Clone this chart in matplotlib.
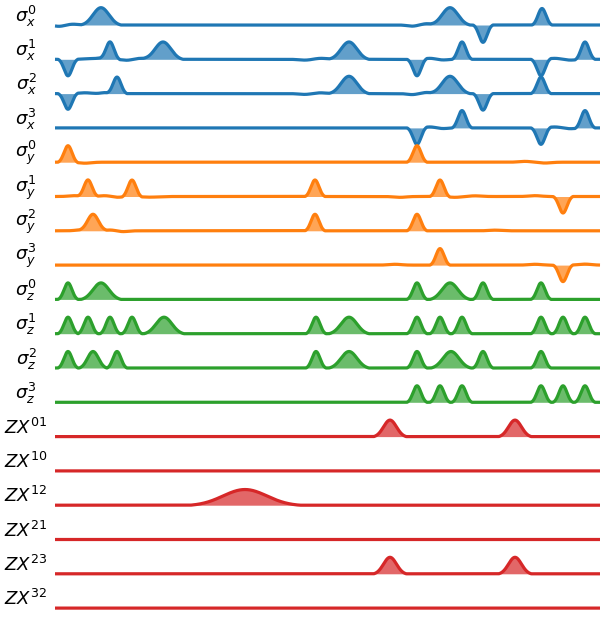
import numpy as np
import matplotlib
matplotlib.use("Agg")
import matplotlib.pyplot as plt

# ---- data -------------------------------------------------------------
channels = [r"$\sigma_x^0$", r"$\sigma_x^1$", r"$\sigma_x^2$", r"$\sigma_x^3$",
            r"$\sigma_y^0$", r"$\sigma_y^1$", r"$\sigma_y^2$", r"$\sigma_y^3$",
            r"$\sigma_z^0$", r"$\sigma_z^1$", r"$\sigma_z^2$", r"$\sigma_z^3$",
            r"$ZX^{01}$", r"$ZX^{10}$", r"$ZX^{12}$", r"$ZX^{21}$",
            r"$ZX^{23}$", r"$ZX^{32}$"]
channel_colors = ["#1f77b4"] * 4 + ["#ff7f0e"] * 4 + ["#2ca02c"] * 4 + ["#d62728"] * 6

duration = 545.0

# pulses per channel: (centre time, gaussian sigma, amplitude)
pulses = [
    [(46, 8, 1.05), (395, 8, 1.05), (428, 4, -1.05), (487, 4, 1.0)],                     # sx0
    [(13, 4, -1.0), (55, 4, 1.05), (108, 8, 1.05), (294, 8, 1.05), (362, 4, -1.0),
     (407, 4, 1.05), (486, 4, -1.0), (530, 4, 1.05)],                                   # sx1
    [(13, 4, -0.95), (62, 4, 1.0), (294, 8, 1.05), (395, 8, 1.05), (428, 4, -1.0),
     (486, 4, 1.0)],                                                                   # sx2
    [(362, 4, -1.0), (407, 4, 1.05), (486, 4, -1.0), (530, 4, 1.05)],                     # sx3
    [(13, 4, 1.0), (362, 4, 1.0)],                                                      # sy0
    [(33, 4, 1.0), (77, 4, 1.0), (260, 4, 1.0), (385, 4, 1.0), (508, 4, -1.0)],           # sy1
    [(38, 5.5, 1.0), (260, 4, 1.0), (362, 4, 1.0)],                                     # sy2
    [(385, 4, 1.0), (508, 4, -1.0)],                                                    # sy3
    [(13, 4, 1.0), (46, 8, 1.0), (362, 4, 1.0), (395, 8, 1.0), (428, 4, 1.0),
     (486, 4, 1.0)],                                                                   # sz0
    [(13, 4, 1.0), (33, 4, 1.0), (55, 4, 1.0), (77, 4, 1.0), (109, 8, 1.0),
     (261, 4, 1.0), (294, 8, 1.0), (362, 4, 1.0), (385, 4, 1.0), (407, 4, 1.0),
     (486, 4, 1.0), (508, 4, 1.0), (530, 4, 1.0)],                                     # sz1
    [(13, 4, 1.0), (38, 5.5, 1.0), (62, 4, 1.0), (261, 4, 1.0), (294, 8, 1.0),
     (362, 4, 1.0), (396, 8, 1.0), (428, 4, 1.0), (486, 4, 1.0)],                       # sz2
    [(362, 4, 1.0), (385, 4, 1.0), (407, 4, 1.0), (486, 4, 1.0), (508, 4, 1.0),
     (530, 4, 1.0)],                                                                   # sz3
    [(335, 6.5, 1.0), (460, 6.5, 1.0)],                                                 # ZX01
    [],                                                                                # ZX10
    [(190, 22, 0.95)],                                                                 # ZX12
    [],                                                                                # ZX21
    [(335, 6.5, 1.0), (460, 6.5, 1.0)],                                                 # ZX23
    [],                                                                                # ZX32
]

# small residual ripples on the single-qubit drive channels: (centre, sigma, amplitude)
ripples = [
    [(4, 5, -0.08), (18, 5, 0.05), (357, 5, -0.07), (372, 5, 0.08)],                   # sx0
    [(35, 6, 0.04), (46, 4, 0.07), (72, 5, -0.06), (86, 6, 0.06), (250, 6, -0.05),
     (266, 6, 0.06), (375, 5, 0.06), (388, 5, -0.04), (500, 6, 0.06), (515, 6, -0.05)], # sx1
    [(30, 6, 0.05), (50, 4, 0.06), (250, 6, -0.05), (265, 6, 0.05), (357, 5, -0.06),
     (372, 5, 0.07)],                                                                  # sx2
    [(375, 5, 0.06), (388, 5, -0.04), (500, 6, 0.06), (515, 6, -0.05)],                 # sx3
    [(30, 6, -0.06), (470, 6, 0.05), (490, 6, -0.05)],                                 # sy0
    [(20, 6, 0.05), (50, 6, 0.05), (62, 5, -0.05), (95, 8, -0.04), (345, 6, -0.05),
     (400, 6, -0.05), (420, 6, 0.04), (480, 6, 0.05)],                                 # sy1
    [(25, 5, 0.05), (55, 5, 0.05), (68, 5, -0.05), (440, 6, 0.04)],                    # sy2
    [(340, 6, 0.05), (480, 6, 0.05), (530, 6, 0.06)],                                  # sy3
] + [[] for _ in range(10)]

# ---- figure -----------------------------------------------------------
W, H, DPI = 606, 617, 100
fig = plt.figure(figsize=(W / DPI, H / DPI), dpi=DPI)
ax = fig.add_axes([0, 0, 1, 1])

row_px = 34.3           # pixels per row
first_px = 25.0         # baseline of first row in pixels
left_px, right_px = 55.0, 600.0
px_per_t = (right_px - left_px) / duration
amp_scale = 16.5 / row_px
cut = 2.5               # gaussian truncated at +-2.5 sigma

t = np.linspace(0, duration, 4000)


def trunc_gauss(c, s, a):
    x = (t - c) / s
    e0 = np.exp(-0.5 * cut ** 2)
    g = (np.exp(-0.5 * x ** 2) - e0) / (1 - e0)
    return a * np.where(np.abs(x) < cut, g, 0.0)


def smooth_gauss(c, s, a):
    return a * np.exp(-0.5 * ((t - c) / s) ** 2)


for i, (name, col) in enumerate(zip(channels, channel_colors)):
    y = np.zeros_like(t)
    for c, s, a in pulses[i]:
        y += trunc_gauss(c, s, a)
    for c, s, a in ripples[i]:
        y += smooth_gauss(c, s, a)
    yy = i - amp_scale * y
    ax.fill_between(t, i, yy, color=col, alpha=0.7, lw=0)
    ax.plot(t, yy, color=col, lw=2.3, solid_capstyle="butt")
    ax.text(-(left_px - 26) / px_per_t, i - 0.26, name, ha="center", va="center",
            fontsize=13)

ax.set_xlim(-left_px / px_per_t, (W - left_px) / px_per_t)
ax.set_ylim((H - first_px) / row_px, -first_px / row_px)
ax.axis("off")

fig.savefig("out.png", dpi=DPI)
